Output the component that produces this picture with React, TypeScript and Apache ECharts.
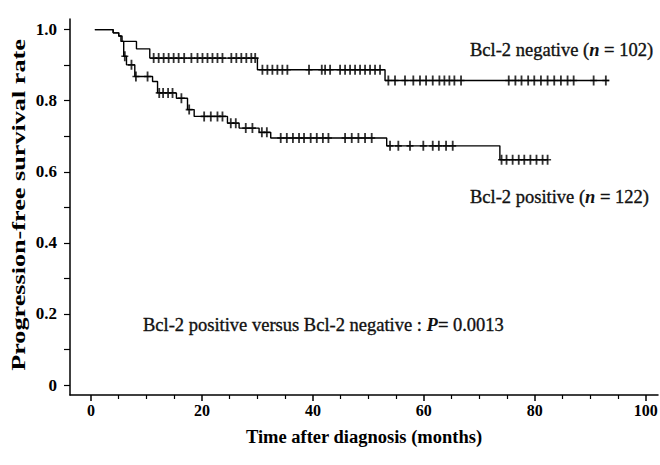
import React, { useEffect, useRef } from "react";
import * as echarts from "echarts";

// Kaplan–Meier step data (time in months, survival after the event at that time)
const negTimes = [0.7, 4.0, 5.0, 5.6, 8.2, 10.6, 30.0, 53.0, 93.4];
const negSurv = [1.0, 0.991, 0.982, 0.967, 0.946, 0.92, 0.887, 0.857, 0.857];
const negCensor = [
  11.3, 12.2, 13.1, 14.0, 14.9, 15.8, 16.8, 18.1, 19.2, 20.1, 21.0, 21.9, 22.8, 23.7, 25.3, 26.2, 27.1, 28.0,
  28.9, 29.6, 30.9, 31.8, 32.7, 33.6, 34.5, 35.4, 39.3, 41.6, 42.2, 43.1, 44.9, 45.8, 46.7, 47.6, 48.5, 49.4,
  50.3, 51.2, 52.1, 53.6, 54.8, 56.6, 58.1, 59.3, 60.4, 61.6, 62.8, 63.7, 64.6, 65.5, 66.7, 75.3, 76.5, 77.6,
  78.8, 79.9, 81.1, 82.3, 83.5, 84.7, 85.9, 87.0, 90.6, 92.8,
];

const posTimes = [0.7, 4.0, 5.0, 5.4, 5.9, 6.4, 7.9, 11.1, 12.0, 15.4, 17.4, 18.6, 24.6, 26.7, 30.3, 32.4, 53.3, 73.7, 82.4];
const posSurv = [1.0, 0.991, 0.982, 0.967, 0.925, 0.901, 0.868, 0.854, 0.822, 0.807, 0.775, 0.756, 0.737, 0.723, 0.711, 0.695, 0.673, 0.634, 0.634];
const posCensor = [
  6.1, 7.3, 8.1, 10.2, 12.3, 13.0, 13.9, 14.7, 16.3, 17.7, 20.4, 21.6, 22.8, 23.7, 25.2, 26.1, 27.9, 29.1, 30.8,
  31.7, 34.2, 35.3, 36.4, 37.5, 38.4, 39.6, 40.7, 41.8, 42.8, 45.8, 47.0, 48.2, 49.4, 50.6, 53.9, 55.4, 57.5,
  59.9, 61.6, 62.7, 64.0, 65.2, 74.0, 74.9, 76.0, 77.1, 78.1, 79.2, 80.3, 81.4, 82.3,
];

const xMajorTicks = [0, 20, 40, 60, 80, 100];
const xMinorTicks = [5, 10, 15, 25, 30, 35, 45, 50, 55, 65, 70, 75, 85, 90, 95];
const yTicks = [0, 0.1, 0.2, 0.3, 0.4, 0.5, 0.6, 0.7, 0.8, 0.9, 1.0];
const yLabels = [0, 0.2, 0.4, 0.6, 0.8, 1.0];

const FONT = "Liberation Serif";
const PLUS = "path://M37,0H63V42H100V58H63V100H37V58H0V42H37Z";

function survAt(times: number[], surv: number[], t: number): number {
  let s = surv[0];
  for (let i = 0; i < times.length; i++) {
    if (times[i] <= t) s = surv[i];
  }
  return s;
}

export default function App() {
  const ref = useRef<HTMLDivElement>(null);

  useEffect(() => {
    document.body.style.margin = "0";
    if (!ref.current) return;
    const chart = echarts.init(ref.current, undefined, { renderer: "svg" });

    const negLine = negTimes.map((t, i) => [t, negSurv[i]]);
    const posLine = posTimes.map((t, i) => [t, posSurv[i]]);
    const negMarks = negCensor.map((t) => [t, survAt(negTimes, negSurv, t)]);
    const posMarks = posCensor.map((t) => [t, survAt(posTimes, posSurv, t)]);

    const xMin = -3.78;
    const xMax = 102.2;
    const FS = 18.5;

    const heavy = { textBorderColor: "#111", textBorderWidth: 0.35 };
    const richStyles = {
      a: { fontFamily: FONT, fontSize: FS, color: "#111", lineHeight: 22, ...heavy },
      i: { fontFamily: FONT, fontSize: FS, fontStyle: "italic", fontWeight: "bold", color: "#111", lineHeight: 22 },
    };
    const note = (left: number, cy: number, text: string) => ({
      text,
      left,
      top: cy - 11,
      padding: 0,
      textStyle: { rich: richStyles, fontFamily: FONT, fontSize: FS, fontWeight: "normal", color: "#111" },
    });

    chart.setOption({
      animation: false,
      backgroundColor: "#fff",
      title: [
        note(470, 50, "{a|Bcl-2 negative (}{i|n}{a| = 102)}"),
        note(470, 197, "{a|Bcl-2 positive (}{i|n}{a| = 122)}"),
        note(143, 325, "{a|Bcl-2 positive versus Bcl-2 negative : }{i|P}{a|= 0.0013}"),
      ],
      grid: { left: 70, right: 2, top: 19, bottom: 70, containLabel: false, outerBoundsMode: "none" },
      xAxis: [
        {
          type: "value",
          min: xMin,
          max: xMax,
          axisLine: { show: true, onZero: false, lineStyle: { color: "#000", width: 1.5 } },
          axisTick: { show: true, customValues: xMajorTicks, length: 6, lineStyle: { color: "#000", width: 1.5 } },
          axisLabel: {
            customValues: xMajorTicks,
            fontFamily: FONT,
            fontSize: 16,
            fontWeight: "bold",
            color: "#000",
            margin: 7,
          },
          splitLine: { show: false },
          name: "Time after diagnosis (months)",
          nameLocation: "middle",
          nameGap: 32,
          nameTextStyle: { fontFamily: FONT, fontSize: 18.5, fontWeight: "bold", color: "#000" },
        },
        {
          type: "value",
          min: xMin,
          max: xMax,
          position: "bottom",
          axisLine: { show: false, onZero: false },
          axisTick: { show: true, customValues: xMinorTicks, length: 4, lineStyle: { color: "#000", width: 1.2 } },
          axisLabel: { show: false },
          splitLine: { show: false },
        },
      ],
      yAxis: {
        type: "value",
        min: -0.028,
        max: 1.03,
        axisLine: { show: true, onZero: false, lineStyle: { color: "#000", width: 1.5 } },
        axisTick: { show: true, customValues: yTicks, length: 6, lineStyle: { color: "#000", width: 1.2 } },
        axisLabel: {
          customValues: yLabels,
          formatter: (v: number) => (v === 0 ? "0" : v.toFixed(1)),
          fontFamily: FONT,
          fontSize: 17,
          fontWeight: "bold",
          color: "#000",
          margin: 13,
        },
        splitLine: { show: false },
      },
      series: [
        {
          type: "line",
          step: "end",
          data: negLine,
          symbol: "none",
          lineStyle: { color: "#000", width: 1.4 },
          silent: true,
        },
        {
          type: "line",
          step: "end",
          data: posLine,
          symbol: "none",
          lineStyle: { color: "#000", width: 1.4 },
          silent: true,
        },
        {
          type: "scatter",
          data: negMarks,
          symbol: PLUS,
          symbolSize: [7, 10],
          itemStyle: { color: "#000" },
          silent: true,
        },
        {
          type: "scatter",
          data: posMarks,
          symbol: PLUS,
          symbolSize: [7, 10],
          itemStyle: { color: "#000" },
          silent: true,
        },
      ],
      graphic: [
        {
          type: "text",
          x: 19,
          y: 205,
          rotation: Math.PI / 2,
          scaleX: 1.38,
          style: {
            text: "Progression-free survival rate",
            fontFamily: FONT,
            fontSize: 19,
            fontWeight: "bold",
            fill: "#000",
            align: "center",
            verticalAlign: "middle",
          },
        },
      ],
    });

    return () => chart.dispose();
  }, []);

  return <div ref={ref} style={{ width: 660, height: 465 }} />;
}
